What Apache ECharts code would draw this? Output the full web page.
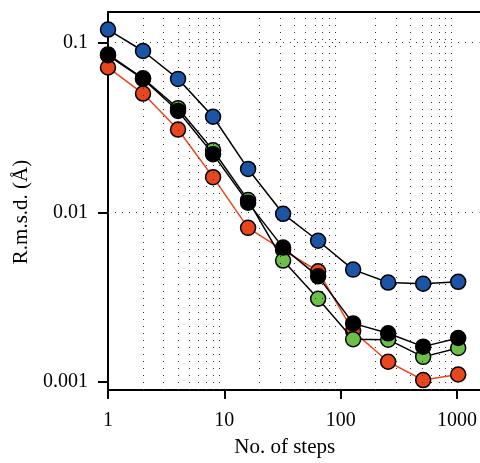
<!DOCTYPE html>
<html>
<head>
<meta charset="utf-8">
<script src="https://cdn.jsdelivr.net/npm/echarts@6/dist/echarts.min.js"></script>
<style>html,body{margin:0;padding:0;background:#fff}#c{width:480px;height:463px}</style>
</head>
<body>
<div id="c"></div>
<script>
const steps = [1, 2, 4, 8, 16, 32, 64, 128, 256, 512, 1024];
const blueVals  = [0.119, 0.089, 0.061, 0.0365, 0.018, 0.0098, 0.0068, 0.0046, 0.00386, 0.0038, 0.0039];
const greenVals = [0.085, 0.0615, 0.041, 0.0232, 0.0118, 0.0052, 0.0031, 0.00179, 0.00178, 0.00141, 0.00159];
const blackVals = [0.084, 0.061, 0.0395, 0.022, 0.0114, 0.0062, 0.0042, 0.00222, 0.00194, 0.00162, 0.00182];
const redVals   = [0.0712, 0.0500, 0.0307, 0.0161, 0.0081, 0.0060, 0.0045, 0.0020, 0.00132, 0.00103, 0.00111];
const xTickVals = [1, 10, 100, 1000];
const yTickVals = [0.001, 0.01, 0.1];
const xMinorGrid = [2,3,4,5,6,7,8,9,20,30,40,50,60,70,80,90,200,300,400,500,600,700,800,900];
const yMajorGrid = [0.001, 0.01, 0.1];

const font = '"Liberation Serif", "Times New Roman", serif';
const pairs = v => steps.map((s, i) => [s, v[i]]);
const mk = (color, lineColor, vals, z) => ({
  type: 'line', data: pairs(vals), symbol: 'circle', symbolSize: 15, z: z,
  itemStyle: { color: color, borderColor: '#000', borderWidth: 1.5 },
  lineStyle: { color: lineColor, width: 1.5 }, animation: false
});
const dotted = { type: [1, 6], color: '#333', width: 1 };
const gridSeries = {
  type: 'line', data: [], silent: true, z: 1,
  markLine: {
    silent: true, symbol: 'none', label: { show: false }, animation: false,
    lineStyle: dotted,
    data: xMinorGrid.map(v => ({ xAxis: v })).concat(yMajorGrid.map(v => ({ yAxis: v })))
  }
};

const chart = echarts.init(document.getElementById('c'));
chart.setOption({
  animation: false,
  grid: { left: 108, right: 0, top: 12, bottom: 65 },
  xAxis: [{
    type: 'log', logBase: 10, min: 1, max: 1560, position: 'bottom',
    name: 'No. of steps', nameLocation: 'middle', nameGap: 47,
    nameTextStyle: { fontFamily: font, fontSize: 21, color: '#000', padding: [0, 18, 0, 0] },
    axisLine: { lineStyle: { color: '#000', width: 2 } },
    axisTick: { show: true, inside: false, length: 9, lineStyle: { color: '#000', width: 2 }, customValues: xTickVals },
    axisLabel: { fontFamily: font, fontSize: 20, color: '#000', margin: 21, customValues: xTickVals,
      formatter: v => String(Math.round(v)) },
    splitLine: { show: false }, minorTick: { show: false }
  }, {
    type: 'log', logBase: 10, min: 1, max: 1560, position: 'top',
    axisLine: { show: true, lineStyle: { color: '#000', width: 2 } },
    axisTick: { show: false }, axisLabel: { show: false }, splitLine: { show: false }
  }],
  yAxis: {
    type: 'log', logBase: 10, min: 0.0009, max: 0.151,
    name: 'R.m.s.d. (Å)', nameLocation: 'middle', nameGap: 68,
    nameTextStyle: { fontFamily: font, fontSize: 21, color: '#000', padding: [0, 22, 0, 0] },
    axisLine: { show: true, lineStyle: { color: '#000', width: 2 } },
    axisTick: { show: true, inside: false, length: 10, lineStyle: { color: '#000', width: 2 }, customValues: yTickVals },
    axisLabel: { fontFamily: font, fontSize: 20, color: '#000', margin: 20, customValues: yTickVals,
      formatter: v => v >= 0.1 ? '0.1' : (v >= 0.01 ? '0.01' : '0.001') },
    splitLine: { show: false }
  },
  series: [
    gridSeries,
    mk('#e8461e', '#e8461e', redVals, 3),
    mk('#6cc04a', '#000', greenVals, 4),
    mk('#000', '#000', blackVals, 5),
    mk('#1d55a6', '#000', blueVals, 6)
  ]
});
</script>
</body>
</html>
